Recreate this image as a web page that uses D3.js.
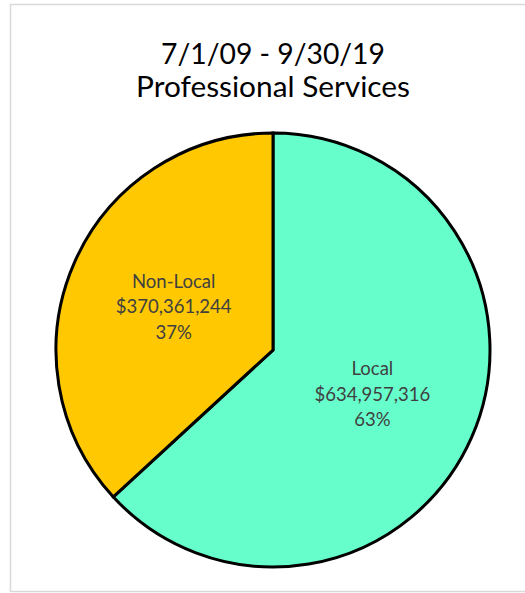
<!DOCTYPE html>
<html><head><meta charset="utf-8">
<script src="https://cdn.jsdelivr.net/npm/d3@7"></script>
<style>html,body{margin:0;padding:0;background:#fff;}svg{display:block;}</style>
</head><body>
<svg id="chart" width="525" height="593"></svg>
<script>
const titleLines = ["7/1/09 - 9/30/19", "Professional Services"];
const categories = ["Local", "Non-Local"];
const values = [634957316, 370361244];
const colors = ["#66FFCC", "#FFC800"];

const svg = d3.select("#chart");
const W = 525, H = 593;
svg.append("rect").attr("x", 10.5).attr("y", 4.5).attr("width", 530).attr("height", 587)
  .attr("fill", "#fff").attr("stroke", "#d9d9d9").attr("stroke-width", 1.5);

const font = "Lato, 'Open Sans', sans-serif";
function fitText(sel, targetW) {
  const node = sel.node();
  const fs = parseFloat(sel.attr("font-size"));
  const w = node.getComputedTextLength();
  sel.attr("font-size", (fs * targetW / w).toFixed(2));
}

const titleY = [64, 97], titleW = [224, 274];
titleLines.forEach((t, i) => {
  const s = svg.append("text").attr("x", 273).attr("y", titleY[i]).attr("text-anchor", "middle")
    .attr("font-family", font).attr("font-size", 30).attr("fill", "#000").text(t);
  fitText(s, titleW[i]);
});

const cx = 273, cy = 350, R = 217;
const total = d3.sum(values);
const pie = d3.pie().sort(null).value(d => d)(values);
const arc = d3.arc().innerRadius(0).outerRadius(R);
const g = svg.append("g").attr("transform", `translate(${cx},${cy})`);
g.selectAll("path").data(pie).join("path")
  .attr("d", arc).attr("fill", (d, i) => colors[i])
  .attr("stroke", "#000").attr("stroke-width", 3).attr("stroke-linejoin", "miter");

const fmt = d3.format("$,");
const pct = d3.format(".0%");
pie.forEach((d, i) => {
  const [x, y] = arc.centroid(d);
  const lines = [categories[i], fmt(values[i]), pct(values[i] / total)];
  const grp = g.append("g");
  let fs = 20;
  lines.forEach((t, j) => {
    grp.append("text").attr("x", x).attr("y", y + 7 + (j - 1) * 25.5)
      .attr("text-anchor", "middle").attr("font-family", font).attr("font-size", fs)
      .attr("fill", "#404040").text(t);
  });
  // fit money line width to ~116px
  const mid = grp.selectAll("text").nodes()[1];
  const scale = 116 / mid.getComputedTextLength();
  grp.selectAll("text").attr("font-size", (fs * scale).toFixed(2));
});
</script>
</body></html>
